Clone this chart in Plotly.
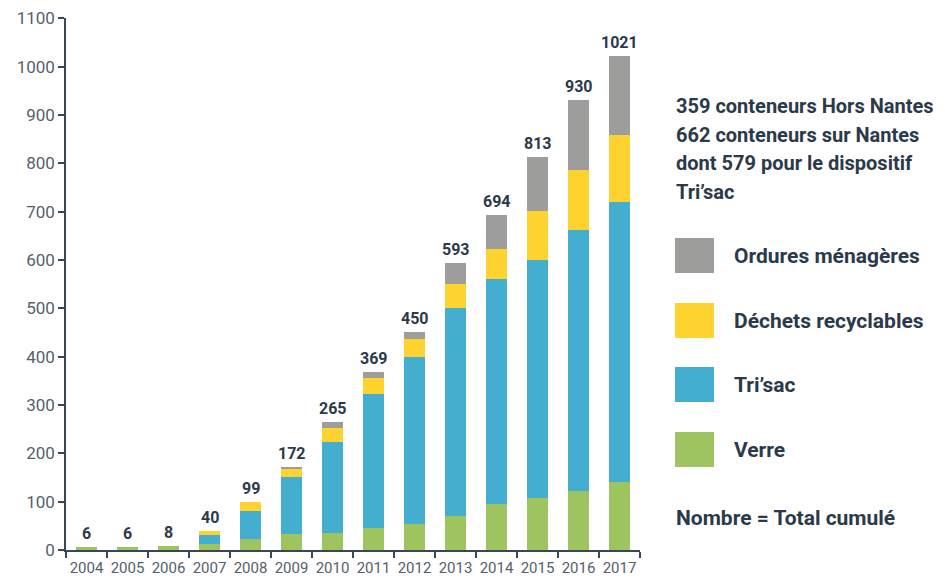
import plotly.graph_objects as go

years = ["2004", "2005", "2006", "2007", "2008", "2009", "2010",
         "2011", "2012", "2013", "2014", "2015", "2016", "2017"]
verre = [6, 6, 8, 12, 23, 33, 35, 45, 54, 70, 95, 108, 122, 140]
trisac = [0, 0, 0, 19, 58, 117, 188, 278, 345, 430, 465, 492, 540, 579]
recyclables = [0, 0, 0, 9, 18, 17, 30, 33, 37, 50, 62, 101, 124, 139]
ordures = [0, 0, 0, 0, 0, 5, 12, 13, 14, 43, 72, 112, 144, 163]
totals = [6, 6, 8, 40, 99, 172, 265, 369, 450, 593, 694, 813, 930, 1021]
y_ticks = [0, 100, 200, 300, 400, 500, 600, 700, 800, 900, 1000, 1100]

series_names = ["Verre", "Tri\u2019sac", "Déchets recyclables", "Ordures ménagères"]
series_vals = [verre, trisac, recyclables, ordures]
colors = ["#9DC45F", "#43AECF", "#FED330", "#9D9D9C"]

info_lines = ["359 conteneurs Hors Nantes", "662 conteneurs sur Nantes",
              "dont 579 pour le dispositif", "Tri\u2019sac"]
footer = "Nombre = Total cumulé"

TXT = "#2B3A4A"
AX = "#3A4756"
FONT = "Roboto"

fig = go.Figure()
for name, vals, col in zip(series_names, series_vals, colors):
    fig.add_trace(go.Bar(x=list(range(len(years))), y=vals, name=name,
                         marker_color=col, marker_line_width=0,
                         showlegend=False, hoverinfo="y+name"))

# totals above bars
for i, t in enumerate(totals):
    fig.add_annotation(x=i, y=t, text=str(t), showarrow=False,
                       yanchor="bottom", yshift=2,
                       font=dict(family=FONT, size=16, color=TXT, weight="bold"))

# screen coords of plot area (page has an 8px body margin)
OFF = 8
L, R, T, B = 66 - OFF, 640 - OFF, 18 - OFF, 550 - OFF
W, H = 945 - OFF, 578 - OFF
pw, ph = R - L, B - T

def px_x(px):
    return (px - OFF - L) / pw

def px_y(py):
    return (B - (py - OFF)) / ph

for line, cy in zip(info_lines, [106, 135, 163, 192]):
    fig.add_annotation(xref="paper", yref="paper", x=px_x(674), y=px_y(cy),
                       text=line, showarrow=False, xanchor="left", yanchor="middle",
                       font=dict(family=FONT, size=20, color=TXT, weight="bold"))

leg_order = [3, 2, 1, 0]
sq_tops = [238, 303, 367, 432]
for idx, top in zip(leg_order, sq_tops):
    fig.add_shape(type="rect", xref="paper", yref="paper",
                  x0=px_x(675), x1=px_x(714), y0=px_y(top + 35), y1=px_y(top),
                  fillcolor=colors[idx], line_width=0)
    fig.add_annotation(xref="paper", yref="paper", x=px_x(732), y=px_y(top + 18),
                       text=series_names[idx], showarrow=False,
                       xanchor="left", yanchor="middle",
                       font=dict(family=FONT, size=21, color=TXT, weight="bold"))

fig.add_annotation(xref="paper", yref="paper", x=px_x(674), y=px_y(518),
                   text=footer, showarrow=False, xanchor="left", yanchor="middle",
                   font=dict(family=FONT, size=21, color=TXT, weight="bold"))

fig.update_layout(
    barmode="stack",
    bargap=0.49,
    width=W, height=H,
    margin=dict(l=L, r=W - R, t=T, b=H - B, autoexpand=False),
    plot_bgcolor="white", paper_bgcolor="white",
    font=dict(family=FONT),
    xaxis=dict(tickmode="array", tickvals=list(range(len(years))), ticktext=years,
               tickangle=0, ticks="", showline=True, linecolor=AX, linewidth=1.5,
               showgrid=False, range=[-0.5, 13.5], zeroline=False,
               ticklabelstandoff=3,
               minor=dict(tickmode="array", tickvals=[i - 0.5 for i in range(len(years) + 1)],
                          ticks="outside", ticklen=6, tickcolor=AX, tickwidth=1.5,
                          showgrid=False),
               tickfont=dict(family=FONT, size=15, color="#55606B")),
    yaxis=dict(range=[0, 1100.5], tickmode="array", tickvals=y_ticks,
               ticks="outside", ticklen=6, ticklabeloverflow="allow",
               tickcolor=AX, tickwidth=1.5, showline=True, linecolor=AX,
               linewidth=1.5, showgrid=False, zeroline=False,
               tickfont=dict(family=FONT, size=17, color="#55606B")),
)

fig.write_html("out.html")
